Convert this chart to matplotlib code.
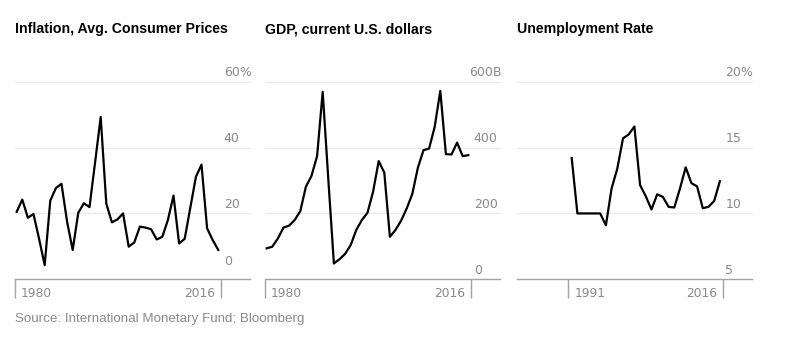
import matplotlib
matplotlib.use("Agg")
import matplotlib.pyplot as plt
from matplotlib import font_manager
from matplotlib.transforms import blended_transform_factory, offset_copy

# --- data ---
years = list(range(1980, 2017))
unemp_years = list(range(1990, 2017))

inflation = [20.5, 24.2, 18.7, 19.8, 12.3, 4.3, 23.9, 27.7, 29.0, 17.5,
             8.9, 20.2, 23.1, 21.9, 35.5, 49.3, 23.0, 17.3, 18.2, 20.0,
             9.9, 11.2, 16.0, 15.7, 15.2, 12.1, 12.9, 18.0, 25.4, 10.9,
             12.3, 21.7, 31.1, 34.8, 15.5, 11.9, 8.9]
gdp = [94, 99, 124, 157, 163, 180, 207, 281, 314, 374,
       569, 305, 48, 61, 77, 104, 150, 180, 202, 266,
       359, 324, 129, 150, 178, 215, 259, 339, 392, 397,
       463, 572, 380, 379, 415, 374, 377]
unemployment = [14.2, 10.0, 10.0, 10.0, 10.0, 10.0, 9.1, 11.9, 13.4, 15.7,
                16.0, 16.6, 12.15, 11.3, 10.3, 11.45, 11.25, 10.5, 10.45, 11.9,
                13.5, 12.3, 12.05, 10.4, 10.5, 10.95, 12.45]

titles = ["Inflation, Avg. Consumer Prices", "GDP, current U.S. dollars", "Unemployment Rate"]
y_ticks = [[0, 20, 40, 60], [0, 200, 400, 600], [5, 10, 15, 20]]
y_labels = [["0", "20", "40", "60%"], ["0", "200", "400", "600B"], ["5", "10", "15", "20%"]]
x_labels = [["1980", "2016"], ["1980", "2016"], ["1991", "2016"]]
source = "Source: International Monetary Fund; Bloomberg"

series = [(years, inflation), (years, gdp), (unemp_years, unemployment)]

# --- layout (pixels of a 799x351 canvas) ---
W, H = 799, 351
lefts = [15, 265, 516.7]
top, width, height = 81.7, 235, 197.6
xlims = [(1979.7, 2021.66), (1979.7, 2021.66), (1980.35, 2021.58)]
tick_pos = [(1979.7, 2016.43), (1979.7, 2016.43), (1989.4, 2016.49)]
bottom_lift = [14.5, 5, 5]

GRID = "#ebebeb"
AXIS = "#a3a3a3"
TEXT = "#8a8a8a"


def pick_font(names):
    for n in names:
        try:
            font_manager.findfont(font_manager.FontProperties(family=n, weight="bold"),
                                  fallback_to_default=False)
            return n
        except ValueError:
            continue
    return "DejaVu Sans"


title_font = pick_font(["Liberation Sans", "Arimo"])

fig = plt.figure(figsize=(W / 100, H / 100), dpi=100)

for i in range(3):
    ax = fig.add_axes([lefts[i] / W, (H - top - height) / H, width / W, height / H])
    xs, ys = series[i]
    ax.plot(xs, ys, color="black", lw=1.6, solid_joinstyle="round", zorder=3)
    ax.set_xlim(*xlims[i])
    ax.set_ylim(y_ticks[i][0], y_ticks[i][-1])

    for s in ["top", "right", "left"]:
        ax.spines[s].set_visible(False)
    ax.spines["bottom"].set_color(AXIS)
    ax.spines["bottom"].set_linewidth(1.0)

    for v in y_ticks[i][1:]:
        ax.axhline(v, color=GRID, lw=1.0, zorder=0, clip_on=False)

    ax.set_yticks([])
    ax.set_xticks(list(tick_pos[i]))
    ax.tick_params(axis="x", length=19 * 0.72, width=1.0, color=AXIS, labelbottom=False)

    # y labels sit just above their gridlines
    ytr = blended_transform_factory(ax.transAxes, ax.transData)
    for j, (v, lab) in enumerate(zip(y_ticks[i], y_labels[i])):
        lift = bottom_lift[i] if j == 0 else 5.5
        tr = offset_copy(ytr, fig=fig, x=0, y=lift * 0.72, units="points")
        if j == len(y_ticks[i]) - 1:
            ax.text(1.007, v, lab, transform=tr, ha="right", va="baseline",
                    fontsize=9, color=TEXT)
        else:
            ax.text(0.888, v, lab, transform=tr, ha="left", va="baseline",
                    fontsize=9, color=TEXT)

    # x labels: first right of its tick, last left of its tick
    xtr = blended_transform_factory(ax.transData, ax.transAxes)
    for k, (p, lab) in enumerate(zip(tick_pos[i], x_labels[i])):
        dx = 6 if k == 0 else -6
        tr = offset_copy(xtr, fig=fig, x=dx * 0.72, y=-14 * 0.72, units="points")
        ax.text(p, 0, lab, transform=tr, ha="left" if k == 0 else "right", va="center",
                fontsize=8.8, color=TEXT)

    fig.text(lefts[i] / W, (H - 33.3) / H, titles[i], ha="left", va="baseline",
             fontsize=10.2, fontweight="bold", family=title_font, color="black")

fig.text(15 / W, (H - 319) / H, source, ha="left", va="center", fontsize=9.6,
         family=title_font, color=TEXT)

fig.savefig("out.png", dpi=100)
